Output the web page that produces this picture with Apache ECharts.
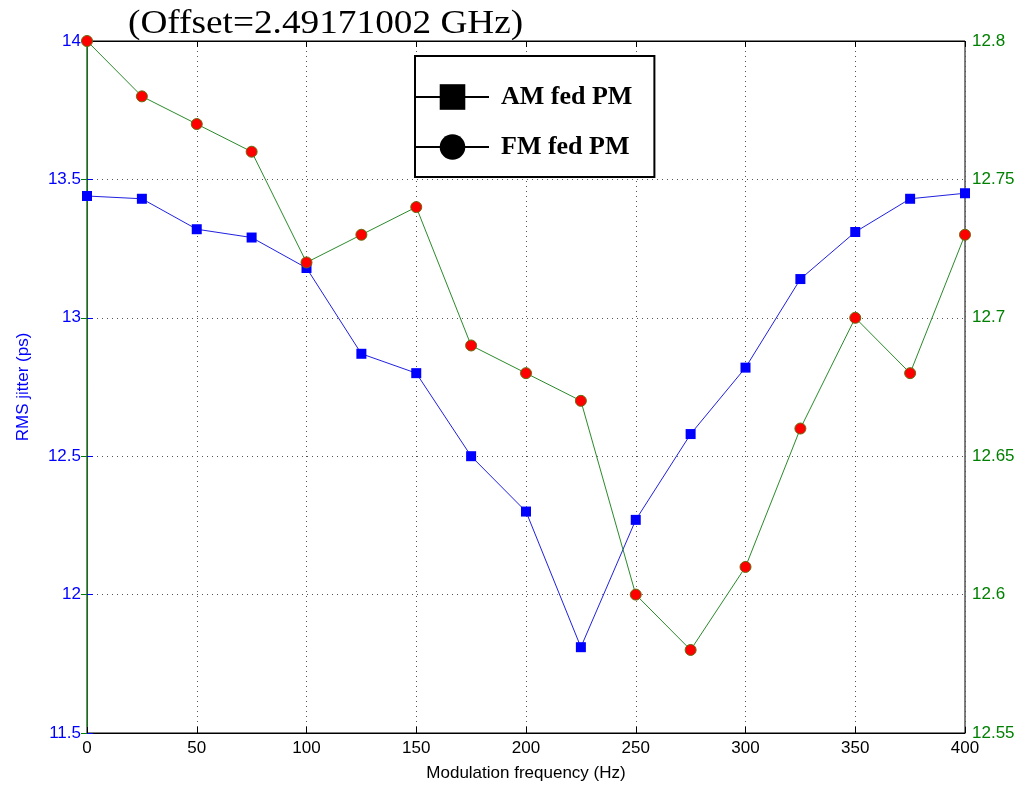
<!DOCTYPE html>
<html>
<head>
<meta charset="utf-8">
<script src="https://cdn.jsdelivr.net/npm/echarts@6/dist/echarts.min.js"></script>
<style>
  html, body { margin: 0; padding: 0; background: #fff; }
  #chart { width: 1035px; height: 792px; }
</style>
</head>
<body>
<div id="chart"></div>
<script>
// Modulation frequency (Hz)
const freqs = [0, 25, 50, 75, 100, 125, 150, 175, 200, 225, 250, 275, 300, 325, 350, 375, 400];
// RMS jitter (ps), AM fed PM — left axis
const amFedPm = [13.44, 13.43, 13.32, 13.29, 13.18, 12.87, 12.80, 12.50, 12.30, 11.81, 12.27, 12.58, 12.82, 13.14, 13.31, 13.43, 13.45];
// RMS jitter (ps), FM fed PM — right axis
const fmFedPm = [12.80, 12.78, 12.77, 12.76, 12.72, 12.73, 12.74, 12.69, 12.68, 12.67, 12.60, 12.58, 12.61, 12.66, 12.70, 12.68, 12.73];

const seriesNames = ['AM fed PM', 'FM fed PM'];
const titleText = '(Offset=2.49171002 GHz)';

const BLUE = '#0000ff';
const GREEN = '#008000';
const sansFont = '"Liberation Sans", Arial, sans-serif';
const serifFont = '"Liberation Serif", "Times New Roman", serif';

const chart = echarts.init(document.getElementById('chart'));

chart.setOption({
  backgroundColor: '#fff',
  animation: false,
  // Heading above the plot, slightly widened serif text
  graphic: [
    {
      type: 'text',
      x: 128,
      y: 24,
      scaleX: 1.13,
      style: {
        text: titleText,
        fontFamily: serifFont,
        fontSize: 33,
        fill: '#000',
        verticalAlign: 'middle',
        align: 'left'
      },
      z: 10
    }
  ],
  legend: {
    left: 415,
    top: 56,
    orient: 'vertical',
    data: seriesNames,
    itemWidth: 73,
    itemHeight: 32,
    itemGap: 24,
    padding: [28, 22, 17, 0],
    borderColor: '#000',
    borderWidth: 2,
    backgroundColor: '#fff',
    itemStyle: { color: '#000', borderWidth: 0 },
    lineStyle: { color: '#000', width: 2 },
    textStyle: {
      fontFamily: serifFont, fontSize: 26, fontWeight: 'bold', color: '#000',
      padding: [0, 0, 0, 7]
    },
    selectedMode: false
  },
  grid: {
    left: 87, right: 70, top: 41, bottom: 59,
    show: true, borderColor: '#000', borderWidth: 1
  },
  xAxis: [
    {
      type: 'value',
      min: 0, max: 400, interval: 50,
      name: 'Modulation frequency (Hz)',
      nameLocation: 'middle',
      nameGap: 32,
      nameTextStyle: { fontFamily: sansFont, fontSize: 17, color: '#000' },
      axisLine: { show: true, lineStyle: { color: '#000', width: 1 } },
      axisTick: { show: true, inside: true, length: 6, lineStyle: { color: '#000' } },
      axisLabel: { fontFamily: sansFont, fontSize: 17, color: '#000', margin: 7 },
      splitLine: { show: true, lineStyle: { color: '#555', type: [1, 4], width: 1 } }
    },
    {
      type: 'value',
      position: 'top',
      min: 0, max: 400, interval: 50,
      axisLine: { show: true, lineStyle: { color: '#000', width: 1 } },
      axisTick: { show: true, inside: true, length: 6, lineStyle: { color: '#000' } },
      axisLabel: { show: false },
      splitLine: { show: false }
    }
  ],
  yAxis: [
    {
      type: 'value',
      min: 11.5, max: 14, interval: 0.5,
      name: 'RMS jitter (ps)',
      nameLocation: 'middle',
      nameGap: 55,
      nameRotate: 90,
      nameTextStyle: { fontFamily: sansFont, fontSize: 17, color: BLUE },
      axisLine: { show: true, lineStyle: { color: BLUE, width: 1 } },
      axisTick: { show: true, inside: true, length: 6, lineStyle: { color: BLUE } },
      axisLabel: { fontFamily: sansFont, fontSize: 17, color: BLUE, margin: 6 },
      splitLine: { show: true, lineStyle: { color: '#555', type: [1, 4], width: 1 } }
    },
    {
      type: 'value',
      position: 'right',
      min: 12.55, max: 12.8, interval: 0.05,
      axisLine: { show: true, lineStyle: { color: GREEN, width: 1 } },
      axisTick: { show: true, inside: true, length: 6, lineStyle: { color: GREEN } },
      axisLabel: { fontFamily: sansFont, fontSize: 17, color: GREEN, margin: 7 },
      splitLine: { show: false }
    }
  ],
  series: [
    {
      name: seriesNames[0],
      type: 'line',
      xAxisIndex: 0,
      yAxisIndex: 0,
      data: freqs.map((f, i) => [f, amFedPm[i]]),
      symbol: 'rect',
      symbolSize: 10,
      lineStyle: { color: '#2020e0', width: 1 },
      itemStyle: { color: BLUE },
      z: 3
    },
    {
      name: seriesNames[1],
      type: 'line',
      xAxisIndex: 0,
      yAxisIndex: 1,
      data: freqs.map((f, i) => [f, fmFedPm[i]]),
      symbol: 'circle',
      symbolSize: 11,
      lineStyle: { color: '#2a8a2a', width: 1 },
      itemStyle: { color: '#ff0000', borderColor: '#6a6a10', borderWidth: 1 },
      z: 4
    }
  ]
});
</script>
</body>
</html>
